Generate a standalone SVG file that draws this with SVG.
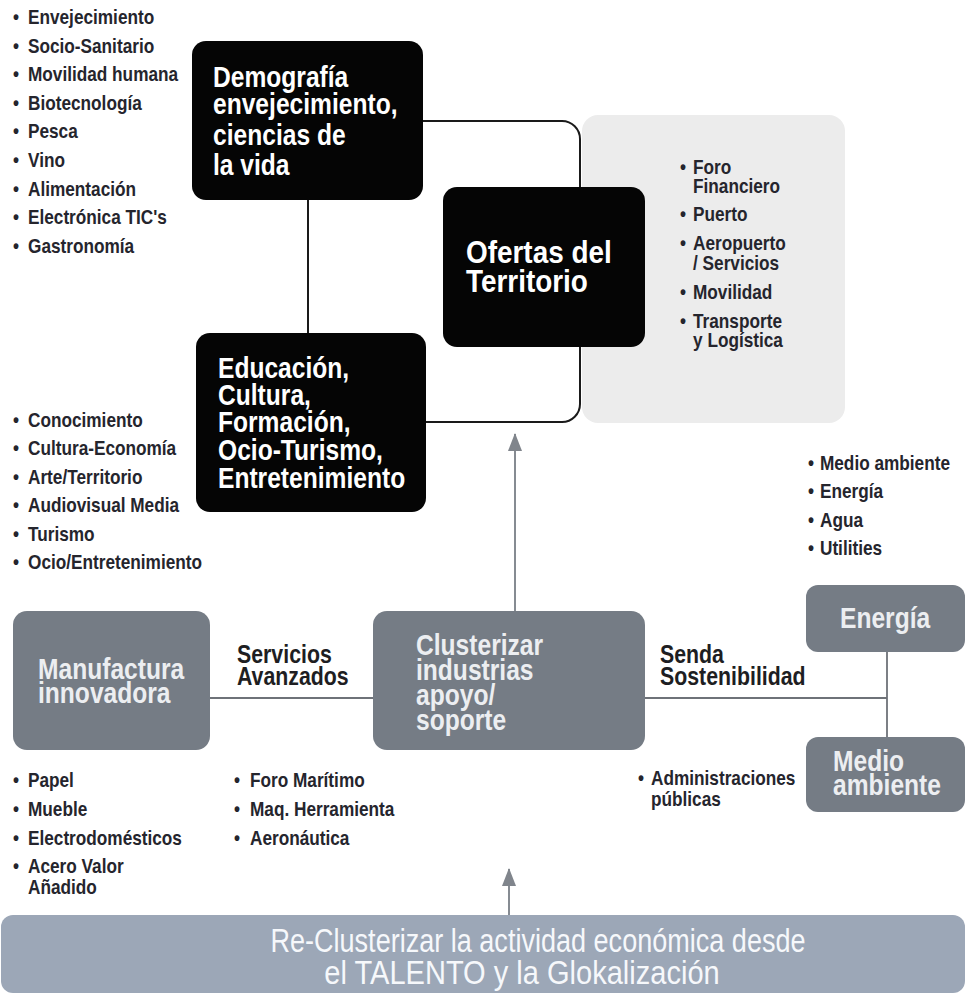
<svg xmlns="http://www.w3.org/2000/svg" width="966" height="995" viewBox="0 0 966 995">
<defs>
<style>
text{font-family:'Liberation Sans',Arial,sans-serif;font-weight:bold}
.li{font-size:21px;fill:#25252d}
.bk{font-size:30px;fill:#ffffff}
.of{font-size:31px;fill:#ffffff}
.gb{font-size:30px;fill:#eceef1}
.lab{font-size:26px;fill:#1e1e22}
.bt{font-size:33px;font-weight:normal;fill:#f6f8fb}
.blk{fill:#050505}
.gry{fill:#757c85}
.ln{fill:none;stroke:#1a1a1a;stroke-width:2}
.gl{fill:none;stroke:#6e7278;stroke-width:1.8}
.ar{fill:none;stroke:#868b92;stroke-width:2}
</style>
<marker id="ah" viewBox="0 0 18 14" refX="17" refY="7" markerWidth="18" markerHeight="14" markerUnits="userSpaceOnUse" orient="auto">
<path d="M0,0 L18,7 L0,14 Z" fill="#80858c"/>
</marker>
</defs>
<rect width="966" height="995" fill="#ffffff"/>

<g id="panel-ofertas">
<rect x="582" y="115" width="263" height="308" rx="16" fill="#ececec"/>
</g>

<g id="connectors">
<path class="ln" d="M423,121 H562 A18,18 0 0 1 580,139 V404 A18,18 0 0 1 562,422 H426"/>
<path class="ln" d="M308,200 V333"/>
<path class="gl" d="M210,698 H373"/>
<path class="gl" d="M645,698 H887"/>
<path class="gl" d="M887,652 V737"/>
<path class="ar" d="M515,611 V434" marker-end="url(#ah)"/>
<path class="ar" d="M509,915 V869" marker-end="url(#ah)"/>
</g>

<g id="list-demografia" transform="translate(13,0) scale(0.82,1)">
<text class="li" y="24"><tspan x="0">•</tspan><tspan x="18.3">Envejecimiento</tspan></text>
<text class="li" y="53"><tspan x="0">•</tspan><tspan x="18.3">Socio-Sanitario</tspan></text>
<text class="li" y="81"><tspan x="0">•</tspan><tspan x="18.3">Movilidad humana</tspan></text>
<text class="li" y="110"><tspan x="0">•</tspan><tspan x="18.3">Biotecnología</tspan></text>
<text class="li" y="138"><tspan x="0">•</tspan><tspan x="18.3">Pesca</tspan></text>
<text class="li" y="167"><tspan x="0">•</tspan><tspan x="18.3">Vino</tspan></text>
<text class="li" y="196"><tspan x="0">•</tspan><tspan x="18.3">Alimentación</tspan></text>
<text class="li" y="224"><tspan x="0">•</tspan><tspan x="18.3">Electrónica TIC's</tspan></text>
<text class="li" y="253"><tspan x="0">•</tspan><tspan x="18.3">Gastronomía</tspan></text>
</g>

<g id="node-demografia">
<rect class="blk" x="192" y="41" width="231" height="159" rx="14"/>
<g transform="translate(213,0) scale(0.82,1)">
<text class="bk" x="0" y="87">Demografía</text>
<text class="bk" x="0" y="114">envejecimiento,</text>
<text class="bk" x="0" y="145">ciencias de</text>
<text class="bk" x="0" y="175">la vida</text>
</g>
</g>

<g id="node-ofertas">
<rect class="blk" x="443" y="187" width="202" height="160" rx="14"/>
<g transform="translate(466,0) scale(0.9,1)">
<text class="of" x="0" y="263">Ofertas del</text>
<text class="of" x="0" y="292">Territorio</text>
</g>
</g>

<g id="list-ofertas" transform="translate(680,0) scale(0.82,1)">
<text class="li" y="174"><tspan x="0">•</tspan><tspan x="15.9">Foro</tspan></text>
<text class="li" x="15.9" y="193">Financiero</text>
<text class="li" y="221"><tspan x="0">•</tspan><tspan x="15.9">Puerto</tspan></text>
<text class="li" y="250"><tspan x="0">•</tspan><tspan x="15.9">Aeropuerto</tspan></text>
<text class="li" x="15.9" y="270">/ Servicios</text>
<text class="li" y="299"><tspan x="0">•</tspan><tspan x="15.9">Movilidad</tspan></text>
<text class="li" y="328"><tspan x="0">•</tspan><tspan x="15.9">Transporte</tspan></text>
<text class="li" x="15.9" y="347">y Logística</text>
</g>

<g id="node-educacion">
<rect class="blk" x="196" y="333" width="230" height="179" rx="14"/>
<g transform="translate(218,0) scale(0.82,1)">
<text class="bk" x="0" y="378">Educación,</text>
<text class="bk" x="0" y="405">Cultura,</text>
<text class="bk" x="0" y="432">Formación,</text>
<text class="bk" x="0" y="460">Ocio-Turismo,</text>
<text class="bk" x="0" y="488">Entretenimiento</text>
</g>
</g>

<g id="list-educacion" transform="translate(13,0) scale(0.82,1)">
<text class="li" y="427"><tspan x="0">•</tspan><tspan x="18.3">Conocimiento</tspan></text>
<text class="li" y="455"><tspan x="0">•</tspan><tspan x="18.3">Cultura-Economía</tspan></text>
<text class="li" y="484"><tspan x="0">•</tspan><tspan x="18.3">Arte/Territorio</tspan></text>
<text class="li" y="512"><tspan x="0">•</tspan><tspan x="18.3">Audiovisual Media</tspan></text>
<text class="li" y="541"><tspan x="0">•</tspan><tspan x="18.3">Turismo</tspan></text>
<text class="li" y="569"><tspan x="0">•</tspan><tspan x="18.3">Ocio/Entretenimiento</tspan></text>
</g>

<g id="list-energia" transform="translate(808,0) scale(0.82,1)">
<text class="li" y="470"><tspan x="0">•</tspan><tspan x="14.6">Medio ambiente</tspan></text>
<text class="li" y="498"><tspan x="0">•</tspan><tspan x="14.6">Energía</tspan></text>
<text class="li" y="527"><tspan x="0">•</tspan><tspan x="14.6">Agua</tspan></text>
<text class="li" y="555"><tspan x="0">•</tspan><tspan x="14.6">Utilities</tspan></text>
</g>

<g id="node-manufactura">
<rect class="gry" x="13" y="611" width="197" height="139" rx="14"/>
<g transform="translate(38,0) scale(0.82,1)">
<text class="gb" x="0" y="679">Manufactura</text>
<text class="gb" x="0" y="703">innovadora</text>
</g>
</g>

<g id="label-servicios" transform="translate(237,0) scale(0.82,1)">
<text class="lab" x="0" y="663">Servicios</text>
<text class="lab" x="0" y="685">Avanzados</text>
</g>

<g id="node-clusterizar">
<rect class="gry" x="373" y="611" width="272" height="139" rx="14"/>
<g transform="translate(416,0) scale(0.82,1)">
<text class="gb" x="0" y="655">Clusterizar</text>
<text class="gb" x="0" y="680">industrias</text>
<text class="gb" x="0" y="705">apoyo/</text>
<text class="gb" x="0" y="730">soporte</text>
</g>
</g>

<g id="label-senda" transform="translate(660,0) scale(0.82,1)">
<text class="lab" x="0" y="663">Senda</text>
<text class="lab" x="0" y="685">Sostenibilidad</text>
</g>

<g id="node-energia">
<rect class="gry" x="806" y="585" width="159" height="67" rx="12"/>
<g transform="translate(840,0) scale(0.82,1)">
<text class="gb" x="0" y="628">Energía</text>
</g>
</g>

<g id="node-medio">
<rect class="gry" x="806" y="737" width="159" height="75" rx="12"/>
<g transform="translate(833,0) scale(0.82,1)">
<text class="gb" x="0" y="771">Medio</text>
<text class="gb" x="0" y="795">ambiente</text>
</g>
</g>

<g id="list-manufactura" transform="translate(13,0) scale(0.82,1)">
<text class="li" y="787"><tspan x="0">•</tspan><tspan x="18.3">Papel</tspan></text>
<text class="li" y="816"><tspan x="0">•</tspan><tspan x="18.3">Mueble</tspan></text>
<text class="li" y="845"><tspan x="0">•</tspan><tspan x="18.3">Electrodomésticos</tspan></text>
<text class="li" y="873"><tspan x="0">•</tspan><tspan x="18.3">Acero Valor</tspan></text>
<text class="li" x="18.3" y="894">Añadido</text>
</g>

<g id="list-servicios" transform="translate(234,0) scale(0.82,1)">
<text class="li" y="787"><tspan x="0">•</tspan><tspan x="19.5">Foro Marítimo</tspan></text>
<text class="li" y="816"><tspan x="0">•</tspan><tspan x="19.5">Maq. Herramienta</tspan></text>
<text class="li" y="845"><tspan x="0">•</tspan><tspan x="19.5">Aeronáutica</tspan></text>
</g>

<g id="list-senda" transform="translate(638,0) scale(0.82,1)">
<text class="li" y="785"><tspan x="0">•</tspan><tspan x="15.9">Administraciones</tspan></text>
<text class="li" x="15.9" y="806">públicas</text>
</g>

<g id="node-reclusterizar">
<rect x="1" y="915" width="964" height="78" rx="12" fill="#9ca7b7"/>
<g transform="translate(538,0) scale(0.82,1)">
<text class="bt" x="0" y="952" text-anchor="middle">Re-Clusterizar la actividad económica desde</text>
</g>
<g transform="translate(522,0) scale(0.88,1)">
<text class="bt" x="0" y="984" text-anchor="middle">el TALENTO y la Glokalización</text>
</g>
</g>
</svg>
